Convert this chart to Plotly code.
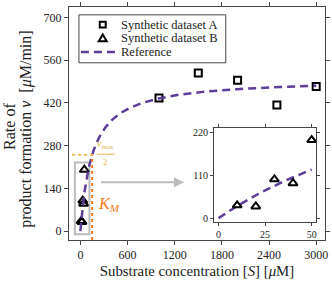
import numpy as np
import plotly.graph_objects as go

# Data
conc_A = [1000, 1500, 2000, 2500, 3000]
rate_A = [436, 518, 494, 413, 474]
conc_B = [10, 20, 30, 40, 50]
rate_B = [33, 30, 100, 90, 201]
vmax = 500
Km = 150
main_xticks = [0, 600, 1200, 1800, 2400, 3000]
main_yticks = [0, 140, 280, 420, 560, 700]
inset_xticks = [0, 25, 50]
inset_yticks = [0, 110, 220]
legend_labels = ["Synthetic dataset A", "Synthetic dataset B", "Reference"]

S_main = np.linspace(0, 3000, 400)
S_inset = np.linspace(0, 50, 100)
v_main = vmax * S_main / (Km + S_main)
v_inset = vmax * S_inset / (Km + S_inset)

PURPLE = "#5e3c99"
ORANGE = "#f47a20"
GOLD = "#e6b651"
GRAY = "#bbbbbb"
FRAME = "#444"
FONT = "Liberation Serif, serif"

W, H = 332, 282
ML, MR, MT, MB = 69, 5, 2, 42
PW, PH = W - ML - MR, H - MT - MB


def px(xp):
    return (xp - ML) / PW


def py(yp):
    return (H - MB - yp) / PH


fig = go.Figure()
fig.add_trace(go.Scatter(x=conc_A, y=rate_A, mode="markers", name=legend_labels[0],
                         marker=dict(symbol="square-open", size=7, color="black", line=dict(width=2, color="black")),
                         xaxis="x", yaxis="y"))
fig.add_trace(go.Scatter(x=conc_B, y=rate_B, mode="markers", name=legend_labels[1],
                         marker=dict(symbol="triangle-up-open", size=8, color="black", line=dict(width=2, color="black")),
                         xaxis="x", yaxis="y"))
fig.add_trace(go.Scatter(x=S_main, y=v_main, mode="lines", name=legend_labels[2],
                         line=dict(color=PURPLE, width=2.5, dash="8px,5px"), xaxis="x", yaxis="y"))
# inset
fig.add_trace(go.Scatter(x=S_inset, y=v_inset, mode="lines",
                         line=dict(color=PURPLE, width=2.5, dash="8px,5px"), xaxis="x2", yaxis="y2"))
fig.add_trace(go.Scatter(x=conc_B, y=rate_B, mode="markers",
                         marker=dict(symbol="triangle-up-open", size=8, color="black", line=dict(width=2, color="black")),
                         xaxis="x2", yaxis="y2"))

axis_common = dict(showline=True, linecolor=FRAME, linewidth=1, mirror="ticks", ticks="outside",
                   ticklen=4, tickcolor=FRAME, showgrid=False, zeroline=False,
                   tickfont=dict(family=FONT, size=12, color="#222"))

# custom compact legend (box, keys, labels)
lx0, lx1, ly0, ly1 = 79, 227, 10, 59
rows = [20, 34, 48]
key_x = 103
shapes = [
    dict(type="rect", xref="x", yref="y", x0=-70, x1=115, y0=-10, y1=225,
         line=dict(color=GRAY, width=2), layer="below"),
    dict(type="line", xref="x", yref="y", x0=Km, x1=Km, y0=-29, y1=vmax / 2,
         line=dict(color=ORANGE, width=2, dash="dot")),
    dict(type="line", xref="x", yref="y", x0=-105, x1=Km, y0=vmax / 2, y1=vmax / 2,
         line=dict(color=GOLD, width=2, dash="dot")),
    dict(type="line", xref="x", yref="y", x0=210, x1=440, y0=252, y1=252,
         line=dict(color=GOLD, width=1)),
    dict(type="rect", xref="paper", yref="paper", x0=px(lx0), x1=px(lx1), y0=py(ly1), y1=py(ly0),
         line=dict(color=FRAME, width=1), fillcolor="white"),
    dict(type="rect", xref="paper", yref="paper", x0=px(key_x - 3), x1=px(key_x + 3),
         y0=py(rows[0] + 3), y1=py(rows[0] - 3), line=dict(color="black", width=2)),
    dict(type="path", xref="paper", yref="paper",
         path=f"M {px(key_x - 4)},{py(rows[1] + 3)} L {px(key_x + 4)},{py(rows[1] + 3)} L {px(key_x)},{py(rows[1] - 4)} Z",
         line=dict(color="black", width=2)),
    dict(type="line", xref="paper", yref="paper", x0=px(81), x1=px(119), y0=py(rows[2]), y1=py(rows[2]),
         line=dict(color=PURPLE, width=2.5, dash="8px,5px")),
]

annotations = [
    dict(x=1317, y=160, ax=244, ay=160, xref="x", yref="y", axref="x", ayref="y",
         showarrow=True, arrowhead=2, arrowsize=1, arrowwidth=2, arrowcolor=GRAY, text=""),
    dict(x=200, y=87, xref="x", yref="y", xanchor="left", yanchor="middle", showarrow=False,
         text="<i>K<sub>M</sub></i>", font=dict(family=FONT, size=16, color=ORANGE)),
    dict(x=325, y=256, xref="x", yref="y", xanchor="center", yanchor="bottom", showarrow=False,
         text="<i>v</i><sub>max</sub>", font=dict(family=FONT, size=10, color=GOLD)),
    dict(x=325, y=249, xref="x", yref="y", xanchor="center", yanchor="top", showarrow=False,
         text="2", font=dict(family=FONT, size=9, color=GOLD)),
    # y-axis title, two lines
    dict(x=px(9), y=py(124), xref="paper", yref="paper", xanchor="center", yanchor="middle",
         textangle=-90, showarrow=False, text="Rate of",
         font=dict(family=FONT, size=16, color="#222")),
    dict(x=px(26), y=py(127), xref="paper", yref="paper", xanchor="center", yanchor="middle",
         textangle=-90, showarrow=False,
         text="product formation <i>v</i>&nbsp; [<i>μ</i>M/min]",
         font=dict(family=FONT, size=16, color="#222")),
]
for lab, r in zip(legend_labels, rows):
    annotations.append(dict(x=px(119), y=py(r), xref="paper", yref="paper", xanchor="left",
                            yanchor="middle", showarrow=False, text=lab,
                            font=dict(family=FONT, size=12.5, color="#222")))

fig.update_layout(
    width=W, height=H,
    margin=dict(l=ML, r=MR, t=MT, b=MB),
    plot_bgcolor="white", paper_bgcolor="white",
    font=dict(family=FONT, color="#222"),
    showlegend=False,
    xaxis=dict(range=[-145, 3112], tickvals=main_xticks, domain=[0, 1],
               title=dict(text="Substrate concentration [<i>S</i>] [<i>μ</i>M]", font=dict(family=FONT, size=14.8), standoff=4),
               **axis_common),
    yaxis=dict(range=[-29, 734], tickvals=main_yticks, domain=[0, 1], **axis_common),
    xaxis2=dict(range=[-2.5, 52.5], tickvals=inset_xticks, domain=[0.566, 0.966], anchor="y2",
                **{**axis_common, "tickfont": dict(family=FONT, size=10, color="#222"), "ticklen": 3}),
    yaxis2=dict(range=[-11, 231], tickvals=inset_yticks, domain=[0.0756, 0.479], anchor="x2",
                **{**axis_common, "tickfont": dict(family=FONT, size=10, color="#222"), "ticklen": 3}),
    shapes=shapes,
    annotations=annotations,
)

fig.write_html("out.html", config={"displayModeBar": False},
               post_script="document.body.style.margin='0';")
